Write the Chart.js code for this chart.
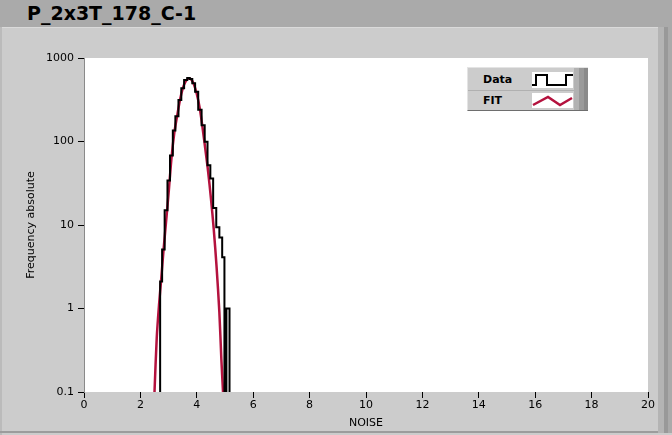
<!DOCTYPE html>
<html>
<head>
<meta charset="utf-8">
<script src="https://cdn.jsdelivr.net/npm/chart.js@4.4.1/dist/chart.umd.min.js"></script>
<style>
  body { margin: 0; width: 672px; height: 435px; overflow: hidden; position: relative; background: #cccccc; font-family: 'DejaVu Sans', sans-serif; }
  #titlebar { position: absolute; left: 0; top: 0; width: 672px; height: 27px; background: #aaaaaa; }
  #titlebar span { position: absolute; left: 27px; top: 0; line-height: 27px; font-size: 19px; font-weight: bold; color: #000; }
  .edge { position: absolute; }
  #chart { position: absolute; left: 0; top: 0; }
  #legend { position: absolute; left: 467px; top: 67px; width: 120px; height: 42px; background: #cccccc;
            border-top: 1px solid #e4e4e4; border-left: 1px solid #e4e4e4; border-bottom: 1px solid #6e6e6e; }
  #legend .row { position: absolute; left: 0; width: 106px; height: 21px; }
  #legend .lbl { position: absolute; left: 15px; top: 0; line-height: 21px; font-size: 11px; font-weight: bold; }
  #legend svg { position: absolute; left: 64px; top: 3px; background: #fff; }
  #legend .bev { position: absolute; top: 0; height: 42px; }
</style>
</head>
<body>
<div id="titlebar"><span>P_2x3T_178_C-1</span></div>
<div class="edge" style="left:0;top:27px;width:672px;height:1px;background:#dadada"></div>
<div class="edge" style="left:0;top:27px;width:2px;height:408px;background:#bbbbbb"></div>
<div class="edge" style="left:0;top:431px;width:672px;height:2px;background:#9c9c9c"></div>
<div class="edge" style="left:658px;top:27px;width:6px;height:406px;background:#b4b4b4"></div>
<div class="edge" style="left:664px;top:27px;width:4px;height:406px;background:#999999"></div>
<div class="edge" style="left:668px;top:27px;width:4px;height:406px;background:#aaaaaa"></div>

<canvas id="chart" width="672" height="435"></canvas>

<div id="legend">
  <div class="row" style="top:1px;border-bottom:1px solid #b0b0b0">
    <span class="lbl">Data</span>
    <svg width="41" height="16" viewBox="0 0 41 16">
      <polyline points="0,13 4,13 4,3 15,3 15,13 34,13 34,3 41,3" fill="none" stroke="#000" stroke-width="2"/>
    </svg>
  </div>
  <div class="row" style="top:22px">
    <span class="lbl">FIT</span>
    <svg width="41" height="15" viewBox="0 0 41 15">
      <polyline points="1,12 16,4 28,12 40,5" fill="none" stroke="#b4123e" stroke-width="2.5"/>
    </svg>
  </div>
  <div class="bev" style="left:106px;width:5px;background:#b2b2b2"></div>
  <div class="bev" style="left:111px;width:5px;background:#9a9a9a"></div>
  <div class="bev" style="left:116px;width:4px;background:#8a8a8a"></div>
</div>

<script>
// histogram: left edge of each bin and its count (0.01 = empty bin, below the axis)
const histEdges  = [2.60, 2.70, 2.77, 2.86, 2.96, 3.05, 3.15, 3.24, 3.35, 3.45, 3.55, 3.66, 3.75, 3.84, 3.94, 4.05, 4.17, 4.28, 4.38, 4.48, 4.58, 4.69, 4.80, 4.90, 4.98, 5.05, 5.16];
const histCounts = [0.01, 2.1, 5.1, 15, 34, 68, 135, 200, 315, 435, 545, 575, 560, 500, 395, 240, 157, 99, 52, 36, 16, 9.4, 7.1, 4.1, 0.01, 1, 0.01];

// fitted curve
const fitNoise = [2.50, 2.58, 2.66, 2.74, 2.82, 2.90, 3.00, 3.10, 3.20, 3.30, 3.40, 3.50, 3.60, 3.70, 3.80, 3.90, 4.00, 4.10, 4.20, 4.30, 4.40, 4.50, 4.60, 4.70, 4.80, 4.87, 4.93];
const fitFreq  = [0.1, 0.45, 1.1, 2.3, 5, 10, 24, 62, 125, 200, 310, 430, 520, 565, 555, 480, 370, 255, 150, 82, 44, 21, 9, 3.2, 0.9, 0.25, 0.1];

const yTickValues = [0.1, 1, 10, 100, 1000];

const plotBg = {
    id: 'plotBg',
    beforeDraw(chart) {
        const { ctx, chartArea: a } = chart;
        ctx.save();
        ctx.fillStyle = '#ffffff';
        ctx.fillRect(a.left, a.top, a.right - a.left, a.bottom - a.top);
        ctx.restore();
    }
};

const tickFont = { family: 'DejaVu Sans', size: 11 };

new Chart(document.getElementById('chart'), {
    type: 'line',
    data: {
        datasets: [{
            label: 'Data',
            data: histEdges.map((x, i) => ({ x: x, y: histCounts[i] })),
            stepped: 'before',
            borderColor: '#000000',
            borderWidth: 2,
            pointRadius: 0,
            fill: false,
            order: 0
        }, {
            label: 'FIT',
            data: fitNoise.map((x, i) => ({ x: x, y: fitFreq[i] })),
            borderColor: '#b4123e',
            borderWidth: 2.5,
            pointRadius: 0,
            tension: 0.3,
            fill: false,
            order: 1
        }]
    },
    options: {
        responsive: false,
        animation: false,
        layout: { padding: { top: 58, right: 24, left: 0, bottom: 0 } },
        plugins: { legend: { display: false }, tooltip: { enabled: false } },
        scales: {
            x: {
                type: 'linear', min: 0, max: 20,
                ticks: { stepSize: 2, color: '#000', font: tickFont, padding: 1, maxRotation: 0 },
                grid: { drawOnChartArea: false, tickLength: 6, color: '#000' },
                border: { display: false },
                title: { display: true, text: 'NOISE', color: '#000', font: tickFont, padding: { top: 0, bottom: 5 } },
                afterFit(s) { s.height = 43; }
            },
            y: {
                type: 'logarithmic', min: 0.1, max: 1000,
                afterBuildTicks(s) { s.ticks = yTickValues.map(v => ({ value: v })); },
                ticks: { color: '#000', font: tickFont, padding: 4, autoSkip: false, callback: v => String(v) },
                grid: { drawOnChartArea: false, tickLength: 6, color: '#000' },
                border: { display: true, color: '#8a8a8a', width: 1 },
                title: { display: true, text: 'Frequency absolute', color: '#000', font: tickFont, padding: { top: 25, bottom: 0 } },
                afterFit(s) { s.width = 84; }
            }
        }
    },
    plugins: [plotBg]
});
</script>
</body>
</html>
